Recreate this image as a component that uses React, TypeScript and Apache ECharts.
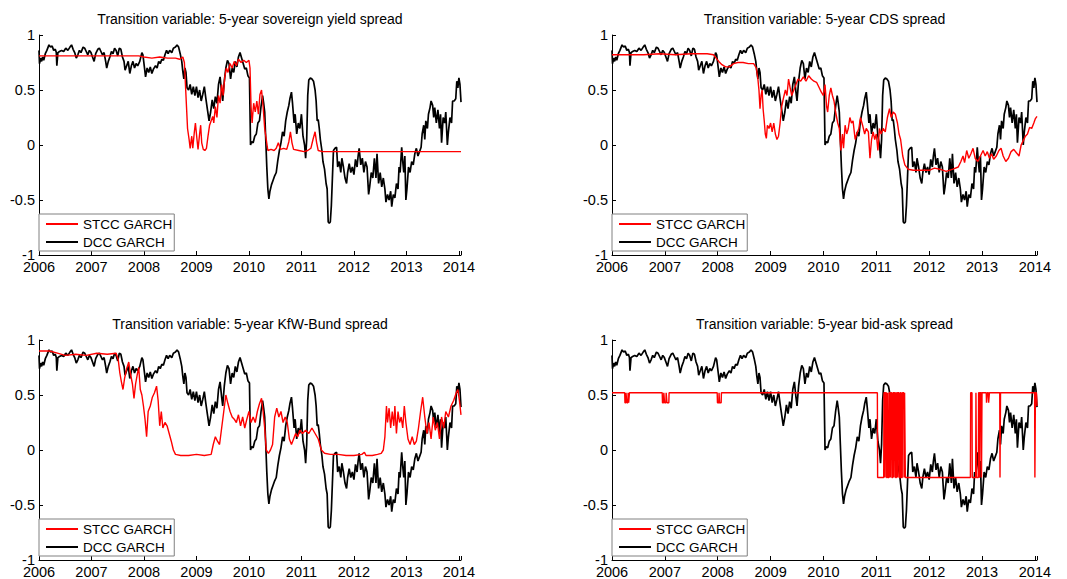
import React, { useEffect, useRef } from "react";
import * as echarts from "echarts";

// Conditional correlation estimates, decimal year vs. correlation.
const dccGarch: [number, number][] = [
  [2006.00, 0.86], [2006.01, 0.74], [2006.03, 0.79], [2006.05, 0.76], [2006.07, 0.80], [2006.09, 0.77],
  [2006.12, 0.83], [2006.15, 0.86], [2006.19, 0.91], [2006.22, 0.89], [2006.25, 0.90], [2006.28, 0.86],
  [2006.31, 0.87], [2006.33, 0.84], [2006.34, 0.72], [2006.36, 0.84], [2006.39, 0.85], [2006.43, 0.86],
  [2006.47, 0.85], [2006.51, 0.88], [2006.55, 0.86], [2006.59, 0.89], [2006.62, 0.91], [2006.65, 0.87],
  [2006.68, 0.84], [2006.71, 0.79], [2006.74, 0.82], [2006.77, 0.86], [2006.80, 0.84], [2006.84, 0.89],
  [2006.87, 0.88], [2006.90, 0.85], [2006.93, 0.82], [2006.96, 0.86], [2006.99, 0.84], [2007.02, 0.80],
  [2007.05, 0.76], [2007.08, 0.83], [2007.12, 0.87], [2007.15, 0.88], [2007.18, 0.85], [2007.21, 0.82],
  [2007.24, 0.84], [2007.27, 0.76], [2007.29, 0.70], [2007.32, 0.76], [2007.35, 0.80], [2007.38, 0.85],
  [2007.41, 0.83], [2007.44, 0.88], [2007.47, 0.86], [2007.50, 0.81], [2007.53, 0.88], [2007.56, 0.87],
  [2007.59, 0.80], [2007.62, 0.76], [2007.64, 0.68], [2007.67, 0.72], [2007.70, 0.76], [2007.73, 0.65],
  [2007.76, 0.72], [2007.79, 0.76], [2007.82, 0.70], [2007.85, 0.74], [2007.88, 0.72], [2007.92, 0.76],
  [2007.96, 0.84], [2007.98, 0.82], [2008.01, 0.70], [2008.03, 0.62], [2008.06, 0.70], [2008.09, 0.66],
  [2008.12, 0.71], [2008.15, 0.65], [2008.18, 0.69], [2008.22, 0.72], [2008.25, 0.70], [2008.28, 0.76],
  [2008.31, 0.74], [2008.34, 0.78], [2008.37, 0.77], [2008.40, 0.82], [2008.43, 0.86], [2008.46, 0.83],
  [2008.49, 0.86], [2008.53, 0.84], [2008.56, 0.88], [2008.60, 0.89], [2008.63, 0.91], [2008.66, 0.89],
  [2008.69, 0.83], [2008.72, 0.76], [2008.74, 0.67], [2008.76, 0.60], [2008.78, 0.70], [2008.80, 0.66],
  [2008.82, 0.52], [2008.85, 0.50], [2008.88, 0.55], [2008.91, 0.46], [2008.94, 0.53], [2008.97, 0.45],
  [2009.00, 0.53], [2009.03, 0.43], [2009.06, 0.50], [2009.09, 0.40], [2009.12, 0.46], [2009.15, 0.53],
  [2009.18, 0.42], [2009.21, 0.32], [2009.24, 0.22], [2009.27, 0.30], [2009.30, 0.41], [2009.33, 0.33],
  [2009.36, 0.44], [2009.39, 0.38], [2009.42, 0.55], [2009.45, 0.62], [2009.48, 0.48], [2009.50, 0.40],
  [2009.53, 0.58], [2009.56, 0.70], [2009.59, 0.77], [2009.62, 0.74], [2009.65, 0.60], [2009.68, 0.70],
  [2009.71, 0.66], [2009.74, 0.76], [2009.77, 0.71], [2009.80, 0.80], [2009.83, 0.84], [2009.86, 0.79],
  [2009.89, 0.74], [2009.92, 0.69], [2009.95, 0.70], [2009.98, 0.63], [2010.01, 0.61], [2010.03, 0.00],
  [2010.05, 0.03], [2010.08, 0.02], [2010.11, 0.08], [2010.14, 0.10], [2010.17, 0.20], [2010.20, 0.22],
  [2010.23, 0.35], [2010.26, 0.45], [2010.28, 0.38], [2010.30, 0.30], [2010.32, 0.05], [2010.34, -0.20],
  [2010.36, -0.40], [2010.38, -0.49], [2010.40, -0.42], [2010.43, -0.36], [2010.46, -0.32], [2010.49, -0.28],
  [2010.52, -0.25], [2010.55, -0.14], [2010.58, -0.05], [2010.61, 0.02], [2010.64, 0.12], [2010.67, 0.08],
  [2010.70, 0.22], [2010.73, 0.30], [2010.76, 0.36], [2010.78, 0.42], [2010.81, 0.48], [2010.83, 0.38],
  [2010.86, 0.20], [2010.88, 0.28], [2010.91, 0.10], [2010.94, 0.20], [2010.97, 0.15], [2011.00, 0.28],
  [2011.03, 0.08], [2011.06, 0.00], [2011.08, -0.12], [2011.10, 0.05], [2011.12, 0.45], [2011.14, 0.59],
  [2011.17, 0.61], [2011.20, 0.60], [2011.23, 0.58], [2011.26, 0.50], [2011.28, 0.40], [2011.30, 0.22],
  [2011.32, 0.23], [2011.34, 0.15], [2011.36, 0.05], [2011.39, -0.05], [2011.41, -0.15], [2011.44, -0.22],
  [2011.47, -0.35], [2011.49, -0.40], [2011.51, -0.70], [2011.53, -0.71], [2011.55, -0.70], [2011.57, -0.55],
  [2011.59, -0.30], [2011.61, -0.05], [2011.64, -0.03], [2011.67, -0.02], [2011.69, -0.20], [2011.72, -0.15],
  [2011.75, -0.25], [2011.77, -0.12], [2011.80, -0.20], [2011.83, -0.30], [2011.86, -0.35], [2011.88, -0.25],
  [2011.91, -0.17], [2011.94, -0.25], [2011.97, -0.20], [2012.00, -0.27], [2012.03, -0.13], [2012.06, -0.20],
  [2012.08, -0.10], [2012.10, -0.03], [2012.13, -0.18], [2012.16, -0.12], [2012.19, -0.25], [2012.22, -0.15],
  [2012.25, -0.20], [2012.28, -0.45], [2012.30, -0.38], [2012.33, -0.25], [2012.36, -0.30], [2012.39, -0.12],
  [2012.42, -0.30], [2012.44, -0.08], [2012.47, -0.35], [2012.50, -0.25], [2012.53, -0.38], [2012.56, -0.30],
  [2012.59, -0.40], [2012.61, -0.52], [2012.64, -0.45], [2012.67, -0.50], [2012.70, -0.42], [2012.72, -0.56],
  [2012.75, -0.45], [2012.78, -0.48], [2012.81, -0.35], [2012.84, -0.40], [2012.86, -0.20], [2012.88, -0.25],
  [2012.91, -0.02], [2012.93, -0.15], [2012.95, -0.25], [2012.97, -0.10], [2012.99, -0.50], [2013.01, -0.40],
  [2013.04, -0.20], [2013.07, -0.25], [2013.10, -0.15], [2013.13, -0.18], [2013.16, -0.08], [2013.19, -0.03],
  [2013.22, -0.10], [2013.25, -0.06], [2013.28, -0.02], [2013.30, 0.10], [2013.33, 0.18], [2013.35, 0.05],
  [2013.37, 0.22], [2013.40, 0.15], [2013.42, 0.28], [2013.45, 0.34], [2013.47, 0.40], [2013.50, 0.36],
  [2013.52, 0.25], [2013.54, 0.34], [2013.57, 0.20], [2013.60, 0.32], [2013.63, 0.15], [2013.65, 0.28],
  [2013.67, 0.02], [2013.70, 0.25], [2013.73, 0.20], [2013.75, 0.30], [2013.78, 0.00], [2013.80, 0.12],
  [2013.83, 0.25], [2013.86, 0.20], [2013.88, 0.40], [2013.91, 0.40], [2013.94, 0.42], [2013.96, 0.58],
  [2013.98, 0.52], [2014.00, 0.61], [2014.02, 0.55], [2014.04, 0.39],
];

const stccSovereign: [number, number][] = [
  [2006.00, 0.81], [2007.90, 0.81], [2008.00, 0.80], [2008.15, 0.79], [2008.30, 0.80], [2008.45, 0.79],
  [2008.60, 0.79], [2008.68, 0.78], [2008.74, 0.80], [2008.77, 0.75], [2008.79, 0.55], [2008.81, 0.35],
  [2008.83, 0.15], [2008.86, 0.05], [2008.88, -0.03], [2008.91, 0.08], [2008.93, -0.03], [2008.96, 0.12],
  [2008.98, 0.20], [2009.01, 0.05], [2009.03, -0.04], [2009.06, 0.10], [2009.08, 0.18], [2009.10, 0.02],
  [2009.13, -0.04], [2009.16, -0.05], [2009.19, -0.03], [2009.22, 0.08], [2009.25, 0.18], [2009.28, 0.22],
  [2009.31, 0.26], [2009.33, 0.20], [2009.36, 0.35], [2009.39, 0.25], [2009.42, 0.45], [2009.45, 0.38],
  [2009.48, 0.55], [2009.51, 0.45], [2009.54, 0.62], [2009.57, 0.70], [2009.60, 0.66], [2009.64, 0.74],
  [2009.68, 0.70], [2009.72, 0.76], [2009.76, 0.72], [2009.80, 0.78], [2009.85, 0.75], [2009.90, 0.77],
  [2009.95, 0.75], [2010.00, 0.77], [2010.02, 0.70], [2010.04, 0.35], [2010.06, 0.20], [2010.09, 0.38],
  [2010.12, 0.30], [2010.15, 0.40], [2010.18, 0.28], [2010.21, 0.46], [2010.24, 0.50], [2010.27, 0.35],
  [2010.30, 0.15], [2010.33, 0.05], [2010.36, -0.05], [2010.42, -0.04], [2010.48, -0.05], [2010.52, -0.03],
  [2010.56, 0.02], [2010.60, -0.04], [2010.66, -0.03], [2010.72, -0.04], [2010.76, 0.03], [2010.79, 0.12],
  [2010.82, 0.02], [2010.85, -0.04], [2010.95, -0.05], [2011.05, -0.06], [2011.12, -0.05], [2011.18, -0.03],
  [2011.22, 0.05], [2011.26, 0.12], [2011.29, 0.02], [2011.32, -0.05], [2011.40, -0.06], [2014.04, -0.06],
];

const stccCds: [number, number][] = [
  [2006.00, 0.82], [2006.30, 0.82], [2006.60, 0.82], [2006.90, 0.83], [2007.20, 0.82], [2007.50, 0.83],
  [2007.80, 0.83], [2007.92, 0.82], [2007.97, 0.79], [2008.02, 0.76], [2008.08, 0.73], [2008.15, 0.71],
  [2008.22, 0.71], [2008.30, 0.74], [2008.38, 0.75], [2008.48, 0.75], [2008.58, 0.74], [2008.68, 0.74],
  [2008.73, 0.70], [2008.76, 0.60], [2008.78, 0.50], [2008.80, 0.33], [2008.82, 0.45], [2008.84, 0.50],
  [2008.86, 0.32], [2008.88, 0.22], [2008.90, 0.10], [2008.92, 0.06], [2008.94, 0.18], [2008.97, 0.15],
  [2009.00, 0.20], [2009.03, 0.12], [2009.06, 0.20], [2009.09, 0.10], [2009.12, 0.05], [2009.15, 0.08],
  [2009.18, 0.20], [2009.21, 0.35], [2009.24, 0.42], [2009.28, 0.50], [2009.31, 0.45], [2009.34, 0.60],
  [2009.37, 0.52], [2009.40, 0.45], [2009.44, 0.50], [2009.48, 0.55], [2009.52, 0.60], [2009.57, 0.58],
  [2009.62, 0.62], [2009.67, 0.58], [2009.72, 0.63], [2009.77, 0.60], [2009.82, 0.58], [2009.87, 0.57],
  [2009.92, 0.52], [2009.96, 0.48], [2010.00, 0.45], [2010.03, 0.55], [2010.06, 0.35], [2010.08, 0.30],
  [2010.11, 0.45], [2010.14, 0.52], [2010.17, 0.45], [2010.20, 0.40], [2010.23, 0.30], [2010.27, 0.20],
  [2010.30, 0.15], [2010.33, -0.05], [2010.36, 0.10], [2010.38, -0.03], [2010.41, 0.18], [2010.44, 0.10],
  [2010.47, 0.15], [2010.50, 0.25], [2010.53, 0.20], [2010.56, 0.22], [2010.60, 0.05], [2010.63, 0.10],
  [2010.67, 0.15], [2010.70, 0.25], [2010.74, 0.18], [2010.78, 0.10], [2010.81, 0.15], [2010.85, 0.12],
  [2010.88, -0.12], [2010.91, 0.05], [2010.94, 0.12], [2010.97, 0.05], [2011.00, 0.10], [2011.03, -0.05],
  [2011.06, 0.15], [2011.09, 0.10], [2011.13, 0.15], [2011.17, 0.12], [2011.21, 0.25], [2011.25, 0.33],
  [2011.28, 0.25], [2011.32, 0.30], [2011.36, 0.28], [2011.40, 0.20], [2011.43, 0.10], [2011.46, 0.05],
  [2011.50, -0.10], [2011.54, -0.18], [2011.60, -0.22], [2011.70, -0.23], [2011.85, -0.23], [2012.00, -0.23],
  [2012.10, -0.21], [2012.20, -0.22], [2012.32, -0.24], [2012.45, -0.22], [2012.55, -0.20], [2012.60, -0.15],
  [2012.64, -0.10], [2012.67, -0.16], [2012.71, -0.05], [2012.75, -0.12], [2012.79, -0.08], [2012.83, -0.03],
  [2012.87, -0.12], [2012.92, -0.15], [2012.97, -0.10], [2013.02, -0.05], [2013.06, -0.10], [2013.10, -0.06],
  [2013.14, -0.12], [2013.18, -0.08], [2013.22, -0.13], [2013.27, -0.10], [2013.32, -0.05], [2013.36, -0.03],
  [2013.40, -0.10], [2013.45, -0.15], [2013.50, -0.12], [2013.55, -0.06], [2013.60, -0.04], [2013.65, -0.07],
  [2013.70, -0.10], [2013.74, 0.00], [2013.78, 0.04], [2013.82, 0.08], [2013.86, 0.10], [2013.90, 0.16],
  [2013.94, 0.15], [2013.98, 0.20], [2014.01, 0.24], [2014.04, 0.26],
];

const stccKfwBund: [number, number][] = [
  [2006.00, 0.90], [2006.20, 0.90], [2006.35, 0.88], [2006.50, 0.86], [2006.70, 0.87], [2006.90, 0.86],
  [2007.10, 0.88], [2007.30, 0.87], [2007.47, 0.88], [2007.51, 0.82], [2007.54, 0.70], [2007.57, 0.62],
  [2007.60, 0.55], [2007.63, 0.65], [2007.67, 0.74], [2007.71, 0.80], [2007.74, 0.70], [2007.78, 0.60],
  [2007.81, 0.47], [2007.84, 0.60], [2007.87, 0.68], [2007.90, 0.75], [2007.93, 0.55], [2007.96, 0.50],
  [2007.99, 0.40], [2008.02, 0.28], [2008.05, 0.12], [2008.08, 0.35], [2008.12, 0.40], [2008.16, 0.48],
  [2008.20, 0.52], [2008.24, 0.58], [2008.27, 0.45], [2008.30, 0.22], [2008.33, 0.35], [2008.36, 0.20],
  [2008.40, 0.25], [2008.44, 0.22], [2008.48, 0.15], [2008.52, 0.08], [2008.56, 0.00], [2008.60, -0.04],
  [2008.70, -0.05], [2008.85, -0.05], [2009.00, -0.04], [2009.15, -0.05], [2009.28, -0.04], [2009.32, 0.05],
  [2009.36, 0.12], [2009.40, 0.08], [2009.44, 0.05], [2009.48, 0.20], [2009.52, 0.35], [2009.56, 0.50],
  [2009.60, 0.42], [2009.64, 0.35], [2009.68, 0.30], [2009.72, 0.28], [2009.76, 0.25], [2009.80, 0.32],
  [2009.84, 0.22], [2009.88, 0.30], [2009.92, 0.20], [2009.96, 0.28], [2010.00, 0.35], [2010.04, 0.25],
  [2010.08, 0.30], [2010.12, 0.25], [2010.16, 0.35], [2010.20, 0.42], [2010.24, 0.47], [2010.27, 0.35],
  [2010.30, 0.20], [2010.33, 0.00], [2010.37, -0.03], [2010.41, 0.00], [2010.45, 0.05], [2010.49, 0.30],
  [2010.53, 0.38], [2010.57, 0.30], [2010.61, 0.35], [2010.65, 0.25], [2010.69, 0.30], [2010.73, 0.25],
  [2010.77, 0.10], [2010.81, 0.05], [2010.85, 0.10], [2010.89, 0.15], [2010.93, 0.12], [2010.97, 0.18],
  [2011.02, 0.15], [2011.08, 0.18], [2011.14, 0.15], [2011.20, 0.20], [2011.26, 0.15], [2011.32, 0.10],
  [2011.38, 0.00], [2011.44, -0.03], [2011.55, -0.04], [2011.70, -0.04], [2011.85, -0.05], [2012.00, -0.05],
  [2012.15, -0.04], [2012.20, -0.02], [2012.23, -0.05], [2012.35, -0.05], [2012.45, -0.04], [2012.52, -0.03],
  [2012.56, 0.00], [2012.59, 0.12], [2012.62, 0.40], [2012.64, 0.25], [2012.67, 0.38], [2012.70, 0.20],
  [2012.73, 0.35], [2012.76, 0.22], [2012.78, 0.40], [2012.81, 0.15], [2012.84, 0.35], [2012.87, 0.25],
  [2012.90, 0.30], [2012.93, 0.20], [2012.96, 0.40], [2012.99, 0.25], [2013.03, 0.10], [2013.07, 0.05],
  [2013.11, 0.12], [2013.15, 0.05], [2013.19, 0.08], [2013.23, 0.20], [2013.27, 0.35], [2013.31, 0.48],
  [2013.35, 0.30], [2013.39, 0.15], [2013.43, 0.25], [2013.47, 0.10], [2013.51, 0.30], [2013.55, 0.18],
  [2013.59, 0.25], [2013.63, 0.10], [2013.67, 0.30], [2013.71, 0.20], [2013.75, 0.35], [2013.80, 0.30],
  [2013.85, 0.40], [2013.90, 0.45], [2013.95, 0.52], [2013.98, 0.55], [2014.01, 0.45], [2014.04, 0.32],
];

// Regime switches: the STCC correlation jumps between its two levels.
const stccBidAsk: [number, number][] = [
  [2006.00, 0.52], [2006.24, 0.52], [2006.245, 0.43], [2006.26, 0.43], [2006.265, 0.52], [2006.275, 0.52],
  [2006.28, 0.43], [2006.30, 0.43], [2006.305, 0.52], [2006.31, 0.52], [2006.315, 0.43], [2006.325, 0.43],
  [2006.33, 0.52], [2006.95, 0.52], [2006.955, 0.43], [2006.975, 0.43], [2006.98, 0.52], [2006.99, 0.52],
  [2006.995, 0.43], [2007.02, 0.43], [2007.025, 0.52], [2007.035, 0.52], [2007.04, 0.43], [2007.075, 0.43],
  [2007.08, 0.52], [2007.99, 0.52], [2007.995, 0.43], [2008.02, 0.43], [2008.025, 0.52], [2008.03, 0.52],
  [2008.035, 0.43], [2008.065, 0.43], [2008.07, 0.52],
  [2011.02, 0.52], [2011.025, -0.25], [2011.14, -0.25], [2011.145, 0.52], [2011.16, 0.52], [2011.165, -0.25],
  [2011.17, -0.25], [2011.175, 0.52], [2011.19, 0.52], [2011.195, -0.25], [2011.21, -0.25], [2011.215, 0.52],
  [2011.22, 0.52], [2011.225, -0.25], [2011.24, -0.25], [2011.245, 0.52], [2011.26, 0.52], [2011.265, -0.25],
  [2011.27, -0.25], [2011.275, 0.52], [2011.29, 0.52], [2011.295, -0.25], [2011.31, -0.25], [2011.315, 0.52],
  [2011.33, 0.52], [2011.335, -0.25], [2011.34, -0.25], [2011.345, 0.52], [2011.36, 0.52], [2011.365, -0.25],
  [2011.38, -0.25], [2011.385, 0.52], [2011.40, 0.52], [2011.405, -0.25], [2011.41, -0.25], [2011.415, 0.52],
  [2011.43, 0.52], [2011.435, -0.25], [2011.45, -0.25], [2011.455, 0.52], [2011.47, 0.52], [2011.475, -0.25],
  [2011.49, -0.25], [2011.495, 0.52], [2011.52, 0.52], [2011.525, -0.25], [2011.53, -0.25], [2011.535, 0.52],
  [2011.545, 0.52], [2011.55, -0.25],
  [2012.78, -0.25], [2012.785, 0.52], [2012.81, 0.52], [2012.815, -0.25], [2012.88, -0.25], [2012.885, 0.52],
  [2012.89, 0.52], [2012.895, -0.25], [2012.93, -0.25], [2012.935, 0.52], [2012.95, 0.52], [2012.955, -0.25],
  [2012.96, -0.25], [2012.965, 0.52], [2012.985, 0.52], [2012.99, -0.25], [2012.995, -0.25], [2013.00, 0.52],
  [2013.08, 0.52], [2013.085, 0.43], [2013.095, 0.43], [2013.10, 0.52], [2013.12, 0.52], [2013.125, 0.43],
  [2013.135, 0.43], [2013.14, 0.52], [2013.335, 0.52], [2013.34, -0.25], [2013.345, -0.25], [2013.35, 0.52],
  [2013.995, 0.52], [2014.00, -0.25], [2014.005, -0.25], [2014.01, 0.52], [2014.03, 0.52], [2014.04, 0.40],
];

const panelTitles = [
  "Transition variable: 5-year sovereign yield spread",
  "Transition variable: 5-year CDS spread",
  "Transition variable: 5-year KfW-Bund spread",
  "Transition variable: 5-year bid-ask spread",
];
const stccSeries = [stccSovereign, stccCds, stccKfwBund, stccBidAsk];
const seriesNames = ["STCC GARCH", "DCC GARCH"];
const xStart = 2006;
const xEnd = 2014.04;

const FONT = "'Liberation Sans', Arial, Helvetica, sans-serif";

// panel boxes: left, top, width, height
const panels = [
  { left: 39, top: 35, width: 422, height: 220 },
  { left: 612, top: 35, width: 425, height: 220 },
  { left: 39, top: 340, width: 422, height: 220 },
  { left: 612, top: 340, width: 425, height: 220 },
];

export default function App() {
  const ref = useRef<HTMLDivElement>(null);

  useEffect(() => {
    if (!ref.current) return;
    const chart = echarts.init(ref.current, undefined, { renderer: "svg" });

    const axisLine = { show: true, onZero: false, lineStyle: { color: "#000", width: 1 } };

    const option: any = {
      animation: false,
      backgroundColor: "#fff",
      title: panels.map((p, i) => ({
        text: panelTitles[i],
        left: p.left + p.width / 2,
        top: p.top - 23,
        textAlign: "center",
        padding: 0,
        textStyle: { fontFamily: FONT, fontSize: 14, fontWeight: "normal", color: "#000" },
      })),
      grid: panels.map((p) => ({ left: p.left, top: p.top, width: p.width, height: p.height })),
      legend: panels.map((p) => ({
        data: seriesNames,
        orient: "vertical",
        left: p.left,
        top: p.top + p.height - 41,
        padding: [3, 2, 2, 6],
        itemGap: 4,
        itemWidth: 32,
        itemHeight: 16,
        backgroundColor: "#fff",
        borderColor: "#808080",
        borderWidth: 1,
        borderRadius: 0,
        selectedMode: false,
        itemStyle: { opacity: 0 },
        textStyle: { fontFamily: FONT, fontSize: 13.5, color: "#000" },
      })),
      xAxis: panels.map((_, i) => ({
        type: "value",
        gridIndex: i,
        min: xStart,
        max: xEnd,
        interval: 1,
        axisLine,
        axisTick: { show: true, inside: true, length: 4, lineStyle: { color: "#000" } },
        axisLabel: {
          margin: 4,
          fontFamily: FONT,
          fontSize: 14.5,
          color: "#000",
          formatter: (v: number) => (Number.isInteger(v) ? String(v) : ""),
        },
        splitLine: { show: false },
      })),
      yAxis: panels.map((_, i) => ({
        type: "value",
        gridIndex: i,
        min: -1,
        max: 1,
        interval: 0.5,
        axisLine,
        axisTick: { show: true, inside: true, length: 4, lineStyle: { color: "#000" } },
        axisLabel: { margin: 4, fontFamily: FONT, fontSize: 14.5, color: "#000" },
        splitLine: { show: false },
      })),
      series: panels.flatMap((_, i) => [
        {
          name: "DCC GARCH",
          type: "line",
          xAxisIndex: i,
          yAxisIndex: i,
          data: dccGarch,
          symbol: "none",
          color: "#000",
          lineStyle: { color: "#000", width: 1.7 },
          z: 2,
        },
        {
          name: "STCC GARCH",
          type: "line",
          xAxisIndex: i,
          yAxisIndex: i,
          data: stccSeries[i],
          symbol: "none",
          color: "#ff0000",
          lineStyle: { color: "#ff0000", width: 1.4 },
          z: 3,
        },
      ]),
    };

    chart.setOption(option);
    return () => chart.dispose();
  }, []);

  return (
    <div
      ref={ref}
      style={{ position: "fixed", left: 0, top: 0, width: 1067, height: 579, background: "#fff" }}
    />
  );
}
